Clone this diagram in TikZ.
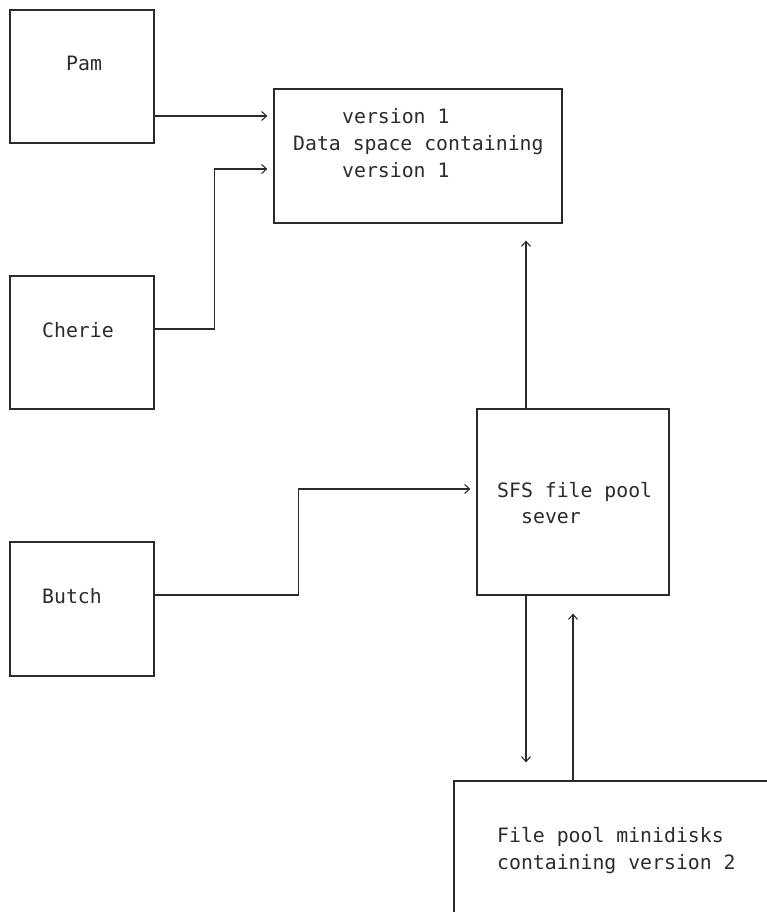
\documentclass[tikz,border=0pt]{standalone}
\usepackage{fontspec}
\newfontfamily\diagmono{DejaVu Sans Mono}
\usetikzlibrary{arrows.meta}
\definecolor{ink}{HTML}{2B2B2B}
\tikzset{
  box/.style={draw=ink, line width=1.2pt, inner sep=0pt, rectangle},
  lbl/.style={anchor=base west, inner sep=0pt, text=ink, font=\diagmono\fontsize{19.8pt}{27pt}\selectfont},
  conn/.style={draw=ink, line width=1.2pt},
  arr/.style={conn, -{Straight Barb[length=5pt,width=9pt,line width=1.1pt]}},
}
\begin{document}
\begin{tikzpicture}[x=1pt,y=-1pt]
\useasboundingbox (0,0) rectangle (767,912);
% boxes
\node[box, minimum width=144pt, minimum height=133pt] (pam) at (82,76.5) {};
\node[box, minimum width=144pt, minimum height=133pt] (cherie) at (82,342.5) {};
\node[box, minimum width=144pt, minimum height=134pt] (butch) at (82,609) {};
\node[box, minimum width=288pt, minimum height=134pt] (data) at (418,156) {};
\node[box, minimum width=192pt, minimum height=186pt] (sfs) at (573,502) {};
\node[box, minimum width=346pt, minimum height=169pt] (fp) at (627,865.5) {};
% labels
\node[lbl] (tpam) at (66,71) {Pam};
\node[lbl] (tcherie) at (42,337) {Cherie};
\node[lbl] (tbutch) at (42,603) {Butch};
\node[lbl] (td1) at (342,124) {version 1};
\node[lbl] (td2) at (293,151) {Data space containing};
\node[lbl] (td3) at (342,178) {version 1};
\node[lbl] (ts1) at (497,497) {SFS file pool};
\node[lbl] (ts2) at (521,523) {sever};
\node[lbl] (tf1) at (497,842) {File pool minidisks};
\node[lbl] (tf2) at (497,869) {containing version 2};
% anchor coordinates on box sides
\coordinate (pamout) at ([yshift=-39.5pt]pam.east);
\coordinate (cherieout) at ([yshift=13.5pt]cherie.east);
\coordinate (datain2) at ([yshift=-13pt]data.west);
\coordinate (butchout) at ([yshift=14pt]butch.east);
\coordinate (sfsin) at ([yshift=13pt]sfs.west);
\coordinate (sfsup) at ([xshift=-47pt]sfs.north);
\coordinate (sfsdown) at ([xshift=-47pt]sfs.south);
% connectors
\draw[arr, shorten >=6pt] (pamout) -- (pamout -| data.west);
\draw[arr, shorten >=6pt] (cherieout) -- ++(60,0) |- (datain2);
\draw[arr, shorten >=6pt] (butchout) -- ++(144,0) |- (sfsin);
\draw[arr, shorten >=17pt] (sfsup) -- (sfsup |- data.south);
\draw[arr, shorten >=18pt] (sfsdown) -- (sfsdown |- fp.north);
\draw[arr, shorten >=18pt] (sfs.south |- fp.north) -- (sfs.south);
\end{tikzpicture}
\end{document}
